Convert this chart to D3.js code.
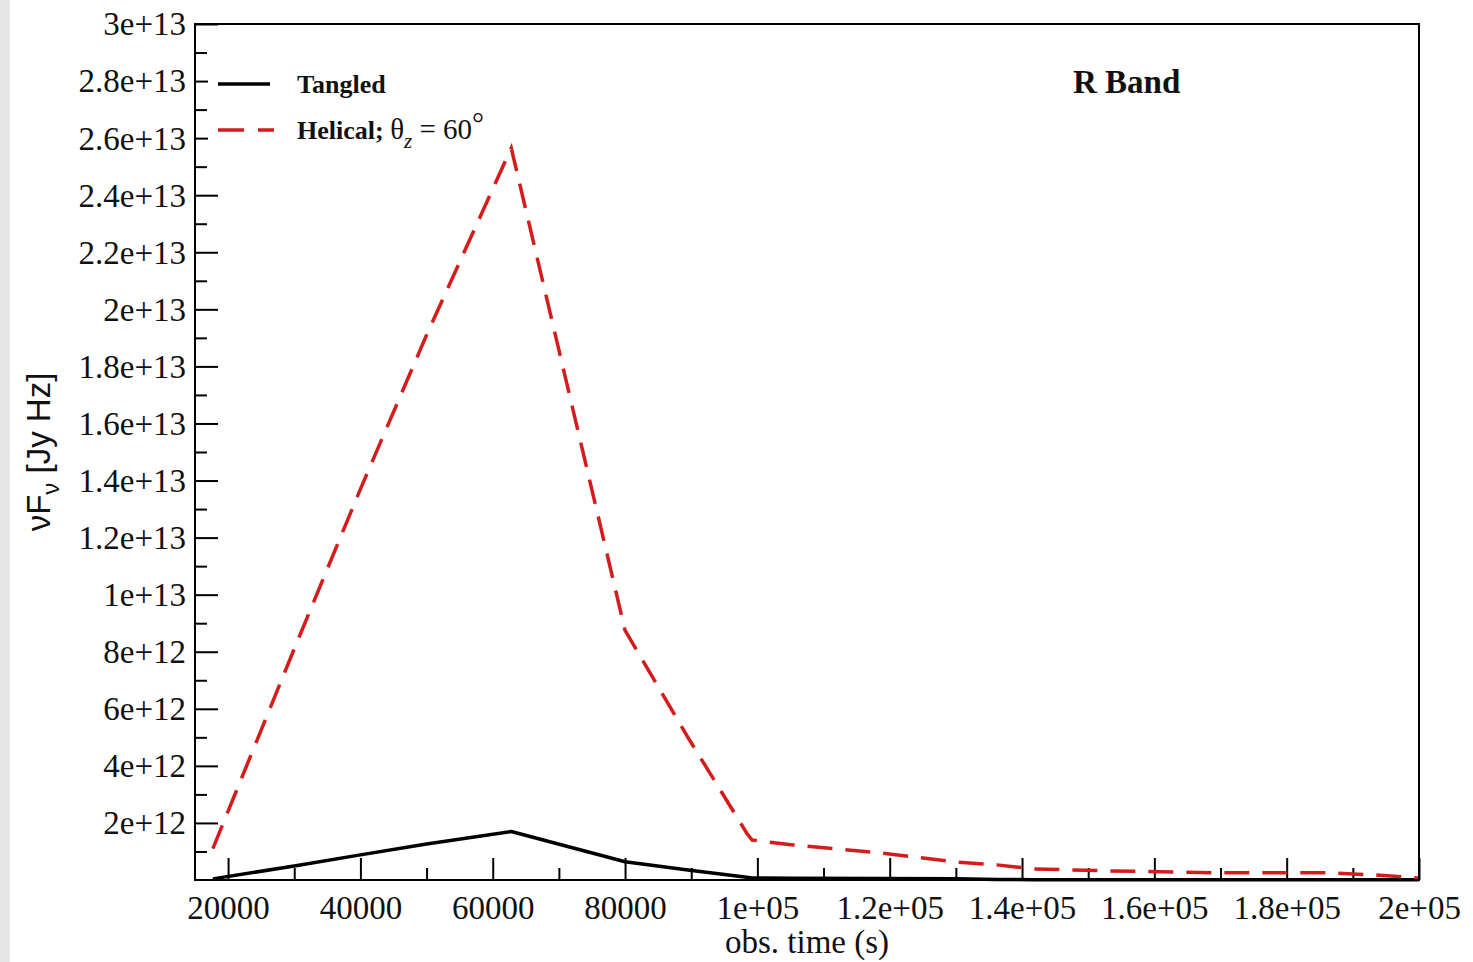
<!DOCTYPE html>
<html>
<head>
<meta charset="utf-8">
<script src="https://cdn.jsdelivr.net/npm/d3@7"></script>
<style>
  html, body { margin: 0; padding: 0; background: #fff; }
  svg { display: block; }
</style>
</head>
<body>
<svg id="chart" width="1473" height="962"></svg>
<script>
// ---- data ----
const obsTime = [17700, 30000, 40000, 50000, 62800, 80000, 89500, 98400, 99200, 105400,
                 118500, 130200, 136200, 141700, 152800, 169900, 187000, 193000, 200000];
const tangled = [0.04e12, 0.49e12, 0.88e12, 1.26e12, 1.70e12, 0.64e12, 0.35e12, 0.10e12, 0.07e12, 0.06e12,
                 0.05e12, 0.04e12, 0.02e12, 0.01e12, 0.01e12, 0.01e12, 0.01e12, 0.01e12, 0.01e12];
const helical = [1.1e12, 8.1e12, 13.7e12, 19.1e12, 25.65e12, 8.75e12, 5.0e12, 1.64e12, 1.40e12, 1.23e12,
                 0.95e12, 0.63e12, 0.53e12, 0.39e12, 0.32e12, 0.25e12, 0.25e12, 0.18e12, 0.07e12];

const xMajorTicks = [20000, 40000, 60000, 80000, 100000, 120000, 140000, 160000, 180000, 200000];
const xTickLabels = ["20000", "40000", "60000", "80000", "1e+05", "1.2e+05", "1.4e+05", "1.6e+05", "1.8e+05", "2e+05"];
const xMinorTicks = [30000, 50000, 70000, 90000, 110000, 130000, 150000, 170000, 190000];

const yMajorTicks = [2e12, 4e12, 6e12, 8e12, 10e12, 12e12, 14e12, 16e12, 18e12, 20e12, 22e12, 24e12, 26e12, 28e12, 30e12];
const yTickLabels = ["2e+12", "4e+12", "6e+12", "8e+12", "1e+13", "1.2e+13", "1.4e+13", "1.6e+13", "1.8e+13",
                     "2e+13", "2.2e+13", "2.4e+13", "2.6e+13", "2.8e+13", "3e+13"];
const yMinorTicks = [1e12, 3e12, 5e12, 7e12, 9e12, 11e12, 13e12, 15e12, 17e12, 19e12, 21e12, 23e12, 25e12, 27e12, 29e12];

const xDomain = [15000, 200000];
const yDomain = [0, 3e13];

// ---- layout ----
const svg = d3.select("#chart");
const L = 195, R = 1419, T = 24, B = 880;
const RED = "#d41c1c";

svg.append("rect").attr("x", 0).attr("y", 0).attr("width", 10).attr("height", 962).attr("fill", "#e6e6e6");

const x = d3.scaleLinear().domain(xDomain).range([L, R]);
const y = d3.scaleLinear().domain(yDomain).range([B, T]);

const serif = "'Liberation Serif', 'Times New Roman', serif";
const sans = "'Liberation Sans', Arial, sans-serif";

// minor ticks
svg.append("g").attr("transform", `translate(0,${B})`)
  .call(d3.axisBottom(x).tickValues(xMinorTicks).tickSize(-12).tickFormat(""))
  .call(g => g.select(".domain").remove())
  .call(g => g.selectAll("line").attr("stroke", "#000").attr("stroke-width", 2));
svg.append("g").attr("transform", `translate(${L},0)`)
  .call(d3.axisLeft(y).tickValues(yMinorTicks).tickSize(-12).tickFormat(""))
  .call(g => g.select(".domain").remove())
  .call(g => g.selectAll("line").attr("stroke", "#000").attr("stroke-width", 2));

// major ticks
svg.append("g").attr("transform", `translate(0,${B})`)
  .call(d3.axisBottom(x).tickValues(xMajorTicks).tickSize(-22).tickPadding(0)
        .tickFormat((d, i) => xTickLabels[i]))
  .call(g => g.select(".domain").remove())
  .call(g => g.selectAll("line").attr("stroke", "#000").attr("stroke-width", 2))
  .call(g => g.selectAll("text").attr("y", 39).attr("dy", null)
        .attr("font-family", serif).attr("font-size", 33).attr("fill", "#111"));

svg.append("g").attr("transform", `translate(${L},0)`)
  .call(d3.axisLeft(y).tickValues(yMajorTicks).tickSize(-23).tickPadding(0)
        .tickFormat((d, i) => yTickLabels[i]))
  .call(g => g.select(".domain").remove())
  .call(g => g.selectAll("line").attr("stroke", "#000").attr("stroke-width", 2))
  .call(g => g.selectAll("text").attr("x", -9).attr("dy", "0.33em")
        .attr("font-family", serif).attr("font-size", 33).attr("fill", "#111"));

// series
const line = d3.line().x((d, i) => x(obsTime[i])).y(d => y(d));
svg.append("path").datum(tangled).attr("d", line)
  .attr("fill", "none").attr("stroke", "#000").attr("stroke-width", 3.5).attr("stroke-linejoin", "round");
svg.append("path").datum(helical).attr("d", line)
  .attr("fill", "none").attr("stroke", RED).attr("stroke-width", 3.5)
  .attr("stroke-dasharray", "25,13");

// legend box (white, covers ticks like the original)
svg.append("rect").attr("x", 208).attr("y", 58).attr("width", 290).attr("height", 92).attr("fill", "#fff");
svg.append("line").attr("x1", 218).attr("x2", 270).attr("y1", 84).attr("y2", 84)
  .attr("stroke", "#000").attr("stroke-width", 3.5);
svg.append("line").attr("x1", 218).attr("x2", 274).attr("y1", 130).attr("y2", 130)
  .attr("stroke", RED).attr("stroke-width", 3.5).attr("stroke-dasharray", "26,14");
svg.append("text").attr("x", 297).attr("y", 93)
  .attr("font-family", serif).attr("font-size", 26).attr("font-weight", "bold").attr("fill", "#111")
  .text("Tangled");
const t2 = svg.append("text").attr("x", 297).attr("y", 139)
  .attr("font-family", serif).attr("font-size", 26).attr("fill", "#111");
t2.append("tspan").attr("font-weight", "bold").text("Helical; ");
t2.append("tspan").attr("font-size", 29).text("θ");
t2.append("tspan").attr("font-style", "italic").attr("font-size", 21).attr("dy", 9).text("z");
t2.append("tspan").attr("font-size", 29).attr("dy", -9).text(" = 60");
t2.append("tspan").attr("font-size", 30).attr("dy", -6).text("°");

// band label
svg.append("text").attr("x", 1073).attr("y", 93)
  .attr("font-family", serif).attr("font-size", 33).attr("font-weight", "bold").attr("fill", "#111")
  .text("R Band");

// axis titles
svg.append("text").attr("x", (L + R) / 2).attr("y", 953).attr("text-anchor", "middle")
  .attr("font-family", serif).attr("font-size", 33).attr("fill", "#111")
  .text("obs. time (s)");

const yt = svg.append("text").attr("transform", `translate(50,${(T + B) / 2}) rotate(-90)`)
  .attr("text-anchor", "middle").attr("font-family", sans).attr("font-size", 33).attr("fill", "#111");
yt.append("tspan").text("νF");
yt.append("tspan").attr("font-size", 24).attr("dy", 9).text("ν");
yt.append("tspan").attr("dy", -9).text(" [Jy Hz]");

// frame
svg.append("rect").attr("x", L).attr("y", T).attr("width", R - L).attr("height", B - T)
  .attr("fill", "none").attr("stroke", "#000").attr("stroke-width", 2);
</script>
</body>
</html>
